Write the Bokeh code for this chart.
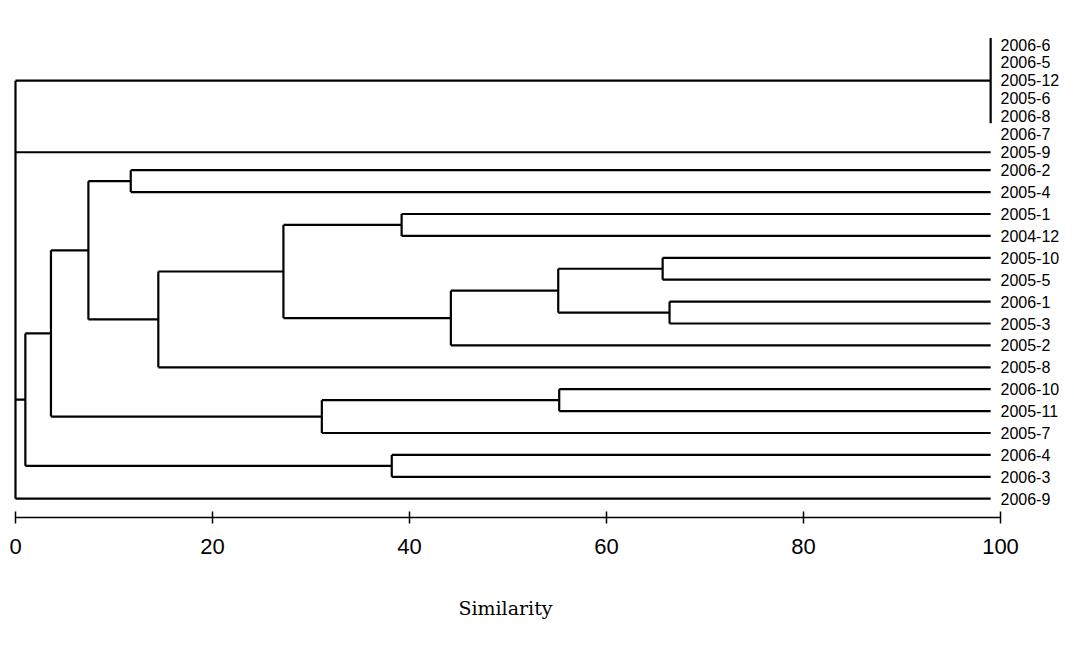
from bokeh.plotting import figure
from bokeh.models import Range1d, LinearAxis, FixedTicker, ColumnDataSource
from bokeh.embed import file_html
from bokeh.resources import INLINE

# ---------------- data ----------------
leaf_labels = ["2006-6", "2006-5", "2005-12", "2005-6", "2006-8", "2006-7",
               "2005-9", "2006-2", "2005-4", "2005-1", "2004-12", "2005-10",
               "2005-5", "2006-1", "2005-3", "2005-2", "2005-8", "2006-10",
               "2005-11", "2005-7", "2006-4", "2006-3", "2006-9"]

cluster_names = ["A", "C1", "C2", "C3", "C4", "C5", "C6", "C7", "C8", "C9",
                 "C10", "C11", "C12", "C13", "C14", "ROOT"]
cluster_members = [
    ["2006-6", "2006-5", "2005-12", "2005-6", "2006-8", "2006-7"],
    ["2006-2", "2005-4"],
    ["2005-1", "2004-12"],
    ["2005-10", "2005-5"],
    ["2006-1", "2005-3"],
    ["C3", "C4"],
    ["C5", "2005-2"],
    ["C2", "C6"],
    ["C7", "2005-8"],
    ["C1", "C8"],
    ["2006-10", "2005-11"],
    ["C10", "2005-7"],
    ["C9", "C11"],
    ["2006-4", "2006-3"],
    ["C12", "C13"],
    ["A", "2005-9", "C14", "2006-9"],
]
cluster_similarity = [99.0, 11.7, 39.2, 65.7, 66.4, 55.1, 44.2, 27.2, 14.5,
                      7.4, 55.2, 31.1, 3.6, 38.2, 1.0, 0.0]

tick_values = [0, 20, 40, 60, 80, 100]
axis_title = "Similarity"

# ---------------- layout ----------------
LEAF_END = 99.0
TOP_GAP = 0.82
row = {}
cur = 0.0
for i, lab in enumerate(leaf_labels):
    row[lab] = round(cur, 2)
    cur += TOP_GAP if i < 7 else 1.0

node_y = dict(row)
node_x = {lab: LEAF_END for lab in leaf_labels}

xs0, xs1, ys0, ys1 = [], [], [], []
for name, members, sim in zip(cluster_names, cluster_members, cluster_similarity):
    cy = [node_y[m] for m in members]
    lo, hi = min(cy), max(cy)
    if node_x[members[0]] == sim:
        # tie group drawn as a bracket (slightly raised, as in the original)
        lo -= 0.3
        hi -= 0.5
    xs0.append(sim); xs1.append(sim); ys0.append(lo); ys1.append(hi)
    for m in members:
        if node_x[m] > sim:
            xs0.append(node_x[m]); xs1.append(sim)
            ys0.append(node_y[m]); ys1.append(node_y[m])
    node_y[name] = (lo + hi) / 2.0
    node_x[name] = sim

seg = ColumnDataSource(dict(x0=xs0, x1=xs1, y0=ys0, y1=ys1))

W, H = 1074, 655
px_per_x = 9.85
px_per_row = 21.9
frame_left = 10.0
frame_right = 1000.0
top_px = 44.0
frame_bottom = 517.0

x_start = -(15.0 - frame_left) / px_per_x
x_end = x_start + (frame_right - frame_left) / px_per_x
y_top = -top_px / px_per_row
y_bottom = y_top + frame_bottom / px_per_row

p = figure(width=W, height=H, output_backend="svg", toolbar_location=None,
           x_range=Range1d(x_start, x_end), y_range=Range1d(y_bottom, y_top),
           x_axis_location=None, y_axis_location=None,
           min_border_left=int(frame_left), min_border_right=int(W - frame_right),
           min_border_top=0, min_border_bottom=int(H - frame_bottom))
p.grid.visible = False
p.outline_line_color = None
p.background_fill_color = "white"
p.border_fill_color = "white"

p.segment(x0="x0", y0="y0", x1="x1", y1="y1", source=seg,
          line_color="black", line_width=2.2)

# leaf labels as a right-hand axis
yax = LinearAxis(ticker=FixedTicker(ticks=[row[l] for l in leaf_labels]),
                 major_label_overrides={row[l]: l for l in leaf_labels})
yax.axis_line_color = None
yax.major_tick_line_color = None
yax.minor_tick_line_color = None
yax.major_tick_in = 0
yax.major_tick_out = 0
yax.major_label_standoff = 0
yax.major_label_text_font = "Liberation Sans"
yax.major_label_text_font_size = "16px"
yax.major_label_text_color = "black"
p.add_layout(yax, "right")

ax = LinearAxis(ticker=FixedTicker(ticks=tick_values), bounds=(0, 100))
ax.axis_label = axis_title
ax.axis_line_width = 1.5
ax.axis_line_color = "black"
ax.major_tick_in = 6
ax.major_tick_out = 6
ax.major_tick_line_width = 1.5
ax.minor_tick_line_color = None
ax.major_label_standoff = 15
ax.major_label_text_font = "Liberation Sans"
ax.major_label_text_font_size = "22px"
ax.major_label_text_color = "black"
ax.axis_label_text_font = "DejaVu Serif"
ax.axis_label_text_font_style = "normal"
ax.axis_label_text_font_size = "19px"
ax.axis_label_text_color = "black"
ax.axis_label_standoff = 40
p.add_layout(ax, "below")

open("out.html", "w").write(file_html(p, INLINE))
